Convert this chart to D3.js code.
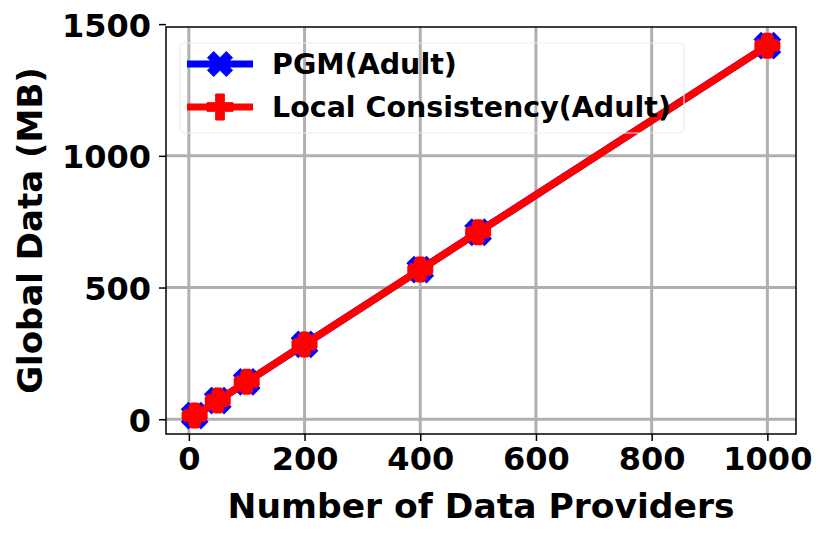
<!DOCTYPE html>
<html><head><meta charset="utf-8">
<script src="https://cdn.jsdelivr.net/npm/d3@7/dist/d3.min.js"></script>
<style>body{margin:0;background:#fff}svg{display:block}text{font-family:"DejaVu Sans",sans-serif;font-weight:bold}</style>
</head><body>
<script>
const providers = [10, 50, 100, 200, 400, 500, 1000];
const pgmValues = [14, 71, 142, 284, 568, 710, 1418];
const localValues = [14, 71, 142, 284, 568, 710, 1418];
const xTicks = [0, 200, 400, 600, 800, 1000];
const yTicks = [0, 500, 1000, 1500];
const seriesNames = ["PGM(Adult)", "Local Consistency(Adult)"];

const W = 830, H = 538;
const L = 166, R = 796, T = 27, B = 434;
const svg = d3.select("body").append("svg").attr("width", W).attr("height", H);
const x = d3.scaleLinear().domain([-39.5, 1049.5]).range([L, R]);
const y = d3.scaleLinear().domain([-56, 1489]).range([B, T]);

// grid
const g = svg.append("g");
g.selectAll(".vg").data(xTicks).join("line")
  .attr("x1", d => x(d)).attr("x2", d => x(d)).attr("y1", T).attr("y2", B)
  .attr("stroke", "#b0b0b0").attr("stroke-width", 3);
g.selectAll(".hg").data(yTicks.filter(d => y(d) >= T)).join("line")
  .attr("y1", d => y(d)).attr("y2", d => y(d)).attr("x1", L).attr("x2", R)
  .attr("stroke", "#b0b0b0").attr("stroke-width", 3);

// axes
const xAxis = d3.axisBottom(x).tickValues(xTicks).tickFormat(d3.format("d")).tickSize(7).tickPadding(6);
const yAxis = d3.axisLeft(y).tickValues(yTicks).tickFormat(d3.format("d")).tickSize(7).tickPadding(8);
const gx = svg.append("g").attr("transform", `translate(0,${B})`).call(xAxis);
const gy = svg.append("g").attr("transform", `translate(${L},0)`).call(yAxis);
[gx, gy].forEach(a => {
  a.select(".domain").remove();
  a.selectAll(".tick line").attr("stroke", "#000").attr("stroke-width", 1.5);
  a.selectAll(".tick text").attr("font-size", 32).attr("fill", "#000")
    .attr("font-family", "DejaVu Sans").attr("font-weight", "bold");
});
gy.selectAll(".tick text").attr("dy", "0.38em");

const line = d3.line().x((d, i) => x(providers[i])).y(d => y(d));

// paths for markers
const plusPath = s => { const u = s / 6; const p = [[-1,-3],[1,-3],[1,-1],[3,-1],[3,1],[1,1],[1,3],[-1,3],[-1,1],[-3,1],[-3,-1],[-1,-1]];
  return "M" + p.map(q => (q[0]*u) + "," + (q[1]*u)).join("L") + "Z"; };
const xPath = s => { const u = s / 4; const p = [[-1,-2],[0,-1],[1,-2],[2,-1],[1,0],[2,1],[1,2],[0,1],[-1,2],[-2,1],[-1,0],[-2,-1]];
  return "M" + p.map(q => (q[0]*u) + "," + (q[1]*u)).join("L") + "Z"; };

// PGM series
svg.append("path").datum(pgmValues).attr("d", line).attr("fill", "none")
  .attr("stroke", "blue").attr("stroke-width", 7.5);
svg.selectAll(".mx").data(pgmValues).join("path")
  .attr("transform", (d, i) => `translate(${x(providers[i])},${y(d)})`)
  .attr("d", xPath(25)).attr("fill", "blue").attr("stroke", "blue").attr("stroke-width", 2).attr("stroke-linejoin", "miter");
// Local consistency series
svg.append("path").datum(localValues).attr("d", line).attr("fill", "none")
  .attr("stroke", "red").attr("stroke-width", 7.5);
svg.selectAll(".mp").data(localValues).join("path")
  .attr("transform", (d, i) => `translate(${x(providers[i])},${y(d)})`)
  .attr("d", plusPath(20)).attr("fill", "red").attr("stroke", "red").attr("stroke-width", 6).attr("stroke-linejoin", "bevel");

// spines
svg.append("rect").attr("x", L).attr("y", T).attr("width", R - L).attr("height", B - T)
  .attr("fill", "none").attr("stroke", "#000").attr("stroke-width", 1.5);

// legend
const lg = svg.append("g");
lg.append("rect").attr("x", 180).attr("y", 43).attr("width", 504).attr("height", 90).attr("rx", 5)
  .attr("fill", "none").attr("stroke", "#ececec").attr("stroke-width", 1.2);
const items = [{name: seriesNames[0], color: "blue", m: xPath(25), y: 64},
               {name: seriesNames[1], color: "red", m: plusPath(26), y: 107}];
items.forEach(it => {
  lg.append("line").attr("x1", 187).attr("x2", 253).attr("y1", it.y).attr("y2", it.y)
    .attr("stroke", it.color).attr("stroke-width", 7);
  lg.append("path").attr("transform", `translate(220,${it.y})`).attr("d", it.m).attr("fill", it.color)
    .attr("stroke", it.color).attr("stroke-width", 1);
  lg.append("text").attr("x", 272).attr("y", it.y).attr("dy", "0.36em").attr("font-size", 28.5).text(it.name);
});

// axis labels
svg.append("text").attr("x", (L + R) / 2).attr("y", 518).attr("text-anchor", "middle")
  .attr("font-size", 34.5).text("Number of Data Providers");
svg.append("text").attr("transform", `translate(42,${(T + B) / 2}) rotate(-90)`).attr("text-anchor", "middle")
  .attr("font-size", 34).text("Global Data (MB)");
</script>
</body></html>
